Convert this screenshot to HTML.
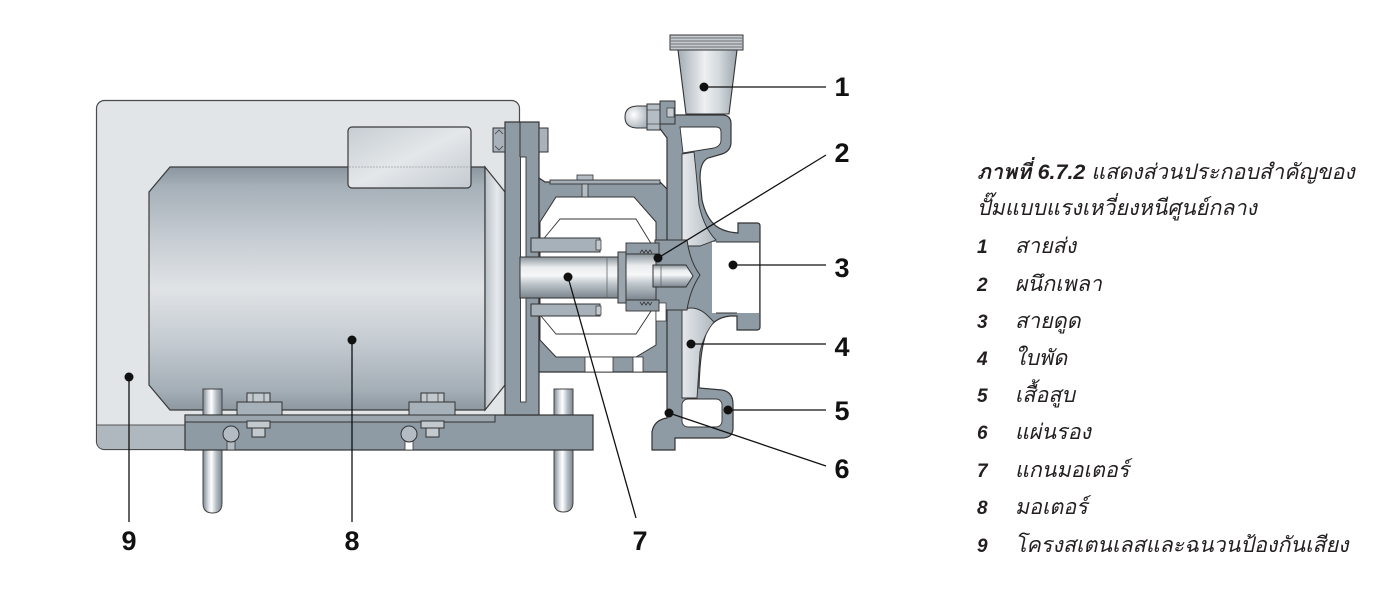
<!DOCTYPE html>
<html><head><meta charset="utf-8">
<style>
html,body{margin:0;padding:0;background:#fff;}
body{width:1395px;height:603px;overflow:hidden;}
svg{display:block;}
.lbl{font-family:"Liberation Sans",Arial,sans-serif;font-weight:bold;font-size:27px;fill:#111;}
.th{font-family:"Liberation Sans","Loma","Garuda","Norasi","Waree","Tlwg Typo","DejaVu Sans",sans-serif;font-size:21.5px;font-style:italic;fill:#231f20;}
.num{font-family:"Liberation Sans",Arial,sans-serif;font-size:19px;font-weight:bold;font-style:italic;fill:#231f20;}
</style></head>
<body>
<svg width="1395" height="603" viewBox="0 0 1395 603" xmlns="http://www.w3.org/2000/svg">
<defs>
<linearGradient id="motorG" x1="0" y1="0" x2="0" y2="1">
<stop offset="0" stop-color="#8a959f"/>
<stop offset="0.08" stop-color="#a6b0b8"/>
<stop offset="0.3" stop-color="#c7cdd3"/>
<stop offset="0.5" stop-color="#e0e3e6"/>
<stop offset="0.72" stop-color="#c4cbd1"/>
<stop offset="0.92" stop-color="#a4aeb6"/>
<stop offset="1" stop-color="#8c97a0"/>
</linearGradient>
<linearGradient id="capG" x1="0" y1="0" x2="1" y2="0">
<stop offset="0" stop-color="#b9c1c8"/>
<stop offset="0.6" stop-color="#e6e9ec"/>
<stop offset="1" stop-color="#c9cfd5"/>
</linearGradient>
<linearGradient id="legG" x1="0" y1="0" x2="1" y2="0">
<stop offset="0" stop-color="#7f8992"/>
<stop offset="0.3" stop-color="#dfe3e6"/>
<stop offset="0.45" stop-color="#ffffff"/>
<stop offset="0.7" stop-color="#b6bec5"/>
<stop offset="1" stop-color="#7d878f"/>
</linearGradient>
<linearGradient id="shaftG" x1="0" y1="0" x2="0" y2="1">
<stop offset="0" stop-color="#8a949c"/>
<stop offset="0.25" stop-color="#e9ecee"/>
<stop offset="0.45" stop-color="#f6f7f8"/>
<stop offset="0.65" stop-color="#bfc6cc"/>
<stop offset="0.85" stop-color="#98a1a9"/>
<stop offset="1" stop-color="#7b858d"/>
</linearGradient>
<linearGradient id="coneG" x1="0" y1="0" x2="1" y2="0">
<stop offset="0" stop-color="#a3adb5"/>
<stop offset="0.45" stop-color="#eef0f2"/>
<stop offset="0.7" stop-color="#d2d8dc"/>
<stop offset="1" stop-color="#9ca6ae"/>
</linearGradient>
<linearGradient id="termG" x1="0" y1="0" x2="1" y2="1">
<stop offset="0" stop-color="#c6cdd2"/>
<stop offset="0.5" stop-color="#e4e7ea"/>
<stop offset="1" stop-color="#c3cad0"/>
</linearGradient>
<linearGradient id="impG" x1="0" y1="0" x2="1" y2="0">
<stop offset="0" stop-color="#e6e9ec"/>
<stop offset="1" stop-color="#aeb7be"/>
</linearGradient>
<radialGradient id="domeG" cx="0.4" cy="0.4" r="0.7">
<stop offset="0" stop-color="#ffffff"/>
<stop offset="1" stop-color="#a8b1b9"/>
</radialGradient>
</defs>

<!-- Enclosure (9) -->
<rect x="96.5" y="100.5" width="423" height="349" rx="8" fill="#e2e5e8" stroke="#4a4a4a" stroke-width="1.2"/>
<path d="M97.1,425 H519 V441 Q519,449 511,449 H105 Q97.1,449 97.1,441 Z" fill="#b0b8bf"/>
<line x1="97" y1="425" x2="185" y2="425" stroke="#555" stroke-width="1"/>

<!-- Motor -->
<polygon points="170,167 485,167 485,410 170,410 149,385 149,192" fill="url(#motorG)" stroke="#3a3a3a" stroke-width="1.2"/>
<polygon points="485,167 505,192 505,385 485,410" fill="url(#capG)" stroke="#3a3a3a" stroke-width="1.2"/>
<rect x="348" y="127" width="123" height="61" rx="4" fill="url(#termG)" stroke="#3a3a3a" stroke-width="1.2"/>
<line x1="349" y1="167" x2="470" y2="167" stroke="#9aa3ab" stroke-width="0.8" stroke-dasharray="2,1"/>

<!-- Legs -->
<path d="M203,389 H222 V503 Q222,513 212.5,513 Q203,513 203,503 Z" fill="url(#legG)" stroke="#444" stroke-width="1"/>
<path d="M554,389 H573 V502 Q573,512 563.5,512 Q554,512 554,502 Z" fill="url(#legG)" stroke="#444" stroke-width="1"/>

<!-- Base -->
<rect x="185" y="415" width="408" height="35" fill="#8e9ba5" stroke="#333" stroke-width="1.2"/>
<rect x="185" y="415" width="310" height="7" fill="#9aa5ae" stroke="#333" stroke-width="1"/>
<!-- foot blocks & nuts -->
<rect x="237" y="402" width="45" height="13" fill="#a7b1b9" stroke="#333" stroke-width="1"/>
<rect x="247" y="393" width="23" height="9" fill="#c3cacf" stroke="#333" stroke-width="1"/>
<line x1="253" y1="393" x2="253" y2="402" stroke="#333" stroke-width="0.7"/><line x1="264" y1="393" x2="264" y2="402" stroke="#333" stroke-width="0.7"/>
<rect x="247" y="421" width="23" height="7" fill="#c3cacf" stroke="#333" stroke-width="1"/>
<rect x="252" y="428" width="13" height="9" fill="#c3cacf" stroke="#333" stroke-width="1"/>
<rect x="409" y="402" width="46" height="13" fill="#a7b1b9" stroke="#333" stroke-width="1"/>
<rect x="421" y="393" width="23" height="9" fill="#c3cacf" stroke="#333" stroke-width="1"/>
<line x1="427" y1="393" x2="427" y2="402" stroke="#333" stroke-width="0.7"/><line x1="438" y1="393" x2="438" y2="402" stroke="#333" stroke-width="0.7"/>
<rect x="421" y="421" width="23" height="7" fill="#c3cacf" stroke="#333" stroke-width="1"/>
<rect x="426" y="428" width="13" height="9" fill="#c3cacf" stroke="#333" stroke-width="1"/>
<rect x="227" y="438" width="8" height="12" fill="#b4bcc3" stroke="#333" stroke-width="0.8"/>
<circle cx="231" cy="434" r="8" fill="#b4bcc3" stroke="#333" stroke-width="1"/>
<rect x="405" y="438" width="8" height="12" fill="#fff" stroke="#333" stroke-width="0.8"/>
<circle cx="409" cy="434" r="8" fill="#b4bcc3" stroke="#333" stroke-width="1"/>

<!-- Flange plate -->
<rect x="505" y="122" width="34" height="293" fill="#8e9ba5" stroke="#333" stroke-width="1.2"/>
<line x1="520" y1="122" x2="520" y2="157" stroke="#333" stroke-width="1"/>
<rect x="520.5" y="157" width="5.5" height="245" fill="#fff" stroke="#333" stroke-width="0.9"/>
<rect x="493" y="128" width="12" height="24" fill="#a9b2ba" stroke="#333" stroke-width="1"/>
<rect x="539" y="128" width="9" height="24" fill="#a9b2ba" stroke="#333" stroke-width="1"/>
<path d="M495,134 L499,130 L503,134 M495,146 L499,150 L503,146" stroke="#333" stroke-width="0.7" fill="none"/>

<!-- Lantern -->
<polygon points="539,178 545,182 660,182 668,190 668,372 539,372" fill="#8e9ba5" stroke="#333" stroke-width="1.2"/>
<polygon points="540,222 556,197 634,197 656,222 656,345 636,357 556,357 540,340" fill="#fff" stroke="#333" stroke-width="1"/>
<polyline points="541,242 560,219 636,219 655,250" fill="none" stroke="#333" stroke-width="0.9"/>
<polyline points="541,316 556,334 636,334 655,305" fill="none" stroke="#333" stroke-width="0.9"/>
<rect x="585" y="357" width="28" height="15" fill="#fff" stroke="#333" stroke-width="0.8"/>
<rect x="633" y="357" width="10" height="15" fill="#fff" stroke="#333" stroke-width="0.8"/>
<rect x="550" y="180" width="110" height="4" fill="#a4aeb6" stroke="#333" stroke-width="0.9"/>
<rect x="577" y="175" width="16" height="5" fill="#b4bcc3" stroke="#333" stroke-width="0.8"/>
<rect x="582" y="184" width="6" height="13" fill="#b4bcc3" stroke="#333" stroke-width="0.8"/>

<!-- Clamps -->
<rect x="531" y="238" width="69" height="14" fill="#a7b1b9" stroke="#333" stroke-width="1"/>
<rect x="531" y="304" width="69" height="12" fill="#a7b1b9" stroke="#333" stroke-width="1"/>
<rect x="596" y="240" width="5" height="10" fill="#c3cacf" stroke="#333" stroke-width="0.7"/>
<rect x="596" y="306" width="5" height="9" fill="#c3cacf" stroke="#333" stroke-width="0.7"/>

<!-- Casing shell -->
<path d="M655,122 L657,115 L722,115 Q731,115 731,124 L731,142 Q731,151 722,154 L708,158 Q700,162 700,178 L702,200 Q706,218 716,226 Q724,232 738,233 L738,223 L757,223 Q760,223 760,226 L760,327 Q760,330 757,330 L737,330 L737,316 L730,316 Q712,318 706,334 Q700,350 699,388 L722,390 Q733,392 733,404 L733,428 Q733,438 722,438 L675,438 L675,450 L652,450 L652,432 Q654,420 667,418 L667,138 Z" fill="#8e9ba5" stroke="#333" stroke-width="1.2"/>
<!-- top pocket -->
<path d="M680,127 L716,127 Q721,127 721,132 L721,140 Q721,146 714,148 L683,153 Z" fill="#fff" stroke="#333" stroke-width="0.9"/>
<!-- suction opening -->
<path d="M712,242 L759,242 L759,313 L712,313 Z" fill="#fff"/>
<line x1="716" y1="242" x2="759" y2="242" stroke="#333" stroke-width="0.9"/>
<line x1="716" y1="313" x2="737" y2="313" stroke="#333" stroke-width="0.9"/>
<!-- impeller top -->
<path d="M682,154 L694,152 Q697,180 699,205 Q704,228 716,240 L700,246 L682,246 Z" fill="url(#impG)" stroke="#333" stroke-width="0.9"/>
<!-- impeller bottom -->
<path d="M682,310 Q696,304 708,316 Q712,320 714,322 Q704,334 700,352 L697,398 L682,398 Z" fill="url(#impG)" stroke="#333" stroke-width="0.9"/>
<!-- bottom pocket -->
<rect x="682" y="399" width="40" height="28" rx="6" fill="#fff" stroke="#333" stroke-width="0.9"/>
<!-- hub -->
<path d="M655,240 L687,240 Q690,262 700,275 Q690,290 687,310 L655,310 Z" fill="#8e9ba5" stroke="#333" stroke-width="1"/>
<!-- white gap lantern/backplate -->
<rect x="656" y="303" width="10" height="18" fill="#fff" stroke="#333" stroke-width="0.7"/>

<!-- Shaft -->
<rect x="520" y="257" width="98" height="41" fill="url(#shaftG)" stroke="#333" stroke-width="1"/>
<line x1="607" y1="258" x2="607" y2="297" stroke="#666" stroke-width="0.8"/>
<rect x="618" y="252" width="8" height="51" fill="#9aa4ac" stroke="#333" stroke-width="1"/>
<rect x="626" y="243" width="33" height="11" fill="#8e9ba5" stroke="#333" stroke-width="0.9"/>
<rect x="626" y="300" width="33" height="11" fill="#8e9ba5" stroke="#333" stroke-width="0.9"/>
<rect x="626" y="254" width="30" height="46" fill="url(#shaftG)" stroke="#333" stroke-width="1"/>
<path d="M653,265 L686,265 L693,276 L686,287 L653,287 Z" fill="url(#shaftG)" stroke="#333" stroke-width="1"/>
<line x1="661" y1="265" x2="661" y2="287" stroke="#666" stroke-width="0.8"/>
<path d="M640,253 l2,-3 l2,3 l2,-3 l2,3 l2,-3 l2,3 M640,302 l2,3 l2,-3 l2,3 l2,-3 l2,3 l2,-3" stroke="#333" stroke-width="0.8" fill="none"/>

<!-- Discharge cone -->
<polygon points="678,50 737,50 729,114 686,114" fill="url(#coneG)" stroke="#333" stroke-width="1.1"/>
<rect x="670" y="35" width="73" height="15" fill="#c4cbd1" stroke="#333" stroke-width="1"/>
<path d="M671,38 H742 M671,41 H742 M671,44 H742 M671,47 H742" stroke="#555" stroke-width="0.7"/>

<!-- Dome nut -->
<path d="M647,106 L638,106 Q625,106 625,117 Q625,128 638,128 L647,128 Z" fill="url(#domeG)" stroke="#333" stroke-width="1"/>
<rect x="647" y="104" width="13" height="26" fill="#b5bdc4" stroke="#333" stroke-width="1"/>
<line x1="647" y1="110" x2="660" y2="110" stroke="#333" stroke-width="0.6"/><line x1="647" y1="124" x2="660" y2="124" stroke="#333" stroke-width="0.6"/>
<rect x="660" y="101" width="15" height="23" fill="#8e9ba5" stroke="#333" stroke-width="1"/>
<rect x="667" y="108" width="7" height="9" fill="#c4cbd1" stroke="#333" stroke-width="0.7"/>

<!-- Leader lines -->
<g stroke="#111" stroke-width="1.3" fill="none">
<line x1="704" y1="87" x2="826" y2="87"/>
<line x1="658" y1="258" x2="826" y2="155"/>
<line x1="733" y1="265" x2="826" y2="265"/>
<line x1="691" y1="344" x2="826" y2="344"/>
<line x1="728" y1="410" x2="826" y2="410"/>
<line x1="669" y1="413" x2="826" y2="466"/>
<line x1="568" y1="277" x2="636" y2="518"/>
<line x1="352" y1="340" x2="352" y2="522"/>
<line x1="129" y1="377" x2="129" y2="522"/>
</g>
<g fill="#111">
<circle cx="704" cy="87" r="4.5"/>
<circle cx="658" cy="258" r="4.5"/>
<circle cx="733" cy="265" r="4.5"/>
<circle cx="691" cy="344" r="4.5"/>
<circle cx="728" cy="410" r="4.5"/>
<circle cx="669" cy="413" r="4.5"/>
<circle cx="568" cy="277" r="4.5"/>
<circle cx="352" cy="340" r="4.5"/>
<circle cx="129" cy="377" r="4.5"/>
</g>

<!-- Labels -->
<g class="lbl" text-anchor="middle">
<text x="842" y="96">1</text>
<text x="842" y="162">2</text>
<text x="842" y="277">3</text>
<text x="842" y="356">4</text>
<text x="842" y="420">5</text>
<text x="842" y="478">6</text>
<text x="640" y="550">7</text>
<text x="352" y="550">8</text>
<text x="129" y="550">9</text>
</g>

<!-- Caption -->
<text class="th" x="977" y="179"><tspan font-weight="bold">ภาพที่ 6.7.2</tspan> แสดงส่วนประกอบสำคัญของ</text>
<text class="th" x="977" y="215">ปั๊มแบบแรงเหวี่ยงหนีศูนย์กลาง</text>
<g>
<text class="num" x="977" y="253">1</text><text class="th" x="1015" y="253">สายส่ง</text>
<text class="num" x="977" y="291">2</text><text class="th" x="1015" y="291">ผนึกเพลา</text>
<text class="num" x="977" y="328">3</text><text class="th" x="1015" y="328">สายดูด</text>
<text class="num" x="977" y="365">4</text><text class="th" x="1015" y="365">ใบพัด</text>
<text class="num" x="977" y="402">5</text><text class="th" x="1015" y="402">เสื้อสูบ</text>
<text class="num" x="977" y="439">6</text><text class="th" x="1015" y="439">แผ่นรอง</text>
<text class="num" x="977" y="477">7</text><text class="th" x="1015" y="477">แกนมอเตอร์</text>
<text class="num" x="977" y="514">8</text><text class="th" x="1015" y="514">มอเตอร์</text>
<text class="num" x="977" y="552">9</text><text class="th" x="1015" y="552">โครงสเตนเลสและฉนวนป้องกันเสียง</text>
</g>
</svg>
</body></html>
